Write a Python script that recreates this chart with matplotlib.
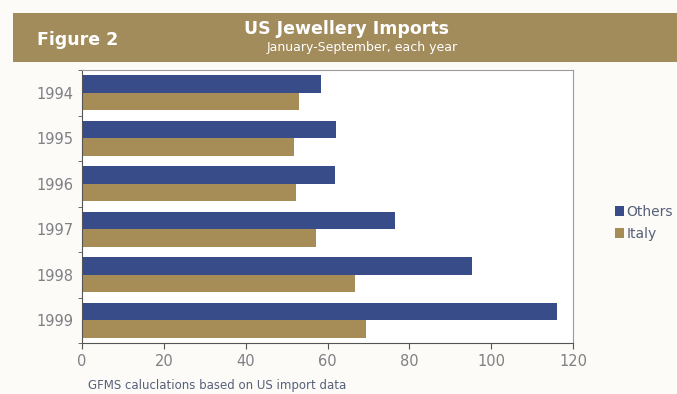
import matplotlib
matplotlib.use("Agg")
import matplotlib.pyplot as plt
import numpy as np
from matplotlib.patches import Rectangle

years = ["1994", "1995", "1996", "1997", "1998", "1999"]
others = [58.5, 62.0, 61.8, 76.5, 95.4, 116.1]
italy = [53.1, 51.8, 52.4, 57.1, 66.6, 69.5]
xticks = [0, 20, 40, 60, 80, 100, 120]

blue = "#394c8a"
tan = "#a68c56"
band = "#a38c5c"
txt = "#7f7f86"

fig = plt.figure(figsize=(6.77, 3.94), dpi=100)
fig.patch.set_facecolor("#fcfbf7")

# header band
fig.patches.append(Rectangle((13 / 677, 1 - 62 / 394), 1 - 13 / 677, 49 / 394,
                             transform=fig.transFigure, facecolor=band,
                             edgecolor="none", zorder=0))
fig.text(37 / 677, 1 - 40 / 394, "Figure 2", color="white", fontsize=12.5,
         fontweight="bold", va="center", ha="left")
fig.text(347 / 677, 1 - 29 / 394, "US Jewellery Imports", color="white",
         fontsize=12.5, fontweight="bold", va="center", ha="center")
fig.text(362 / 677, 1 - 47 / 394, "January-September, each year", color="white",
         fontsize=9, va="center", ha="center")

ax = fig.add_axes([82 / 677, 1 - 343 / 394, (573 - 82) / 677, (343 - 70) / 394])
ax.set_facecolor("white")
y = np.arange(len(years))
h = 0.38
ax.barh(y - h / 2, others, height=h, color=blue, label="Others")
ax.barh(y + h / 2, italy, height=h, color=tan, label="Italy")
ax.set_ylim(len(years) - 0.5, -0.5)
ax.set_xlim(0, 120)
ax.set_xticks(xticks)
ax.set_xticklabels([str(v) for v in xticks])
ax.set_yticks(y)
ax.set_yticklabels(years)
ax.set_yticks(np.arange(len(years) + 1) - 0.5, minor=True)
ax.tick_params(axis="y", which="major", length=0, labelsize=10.5, labelcolor=txt, pad=6)
ax.tick_params(axis="y", which="minor", length=3, color="#555555")
ax.tick_params(axis="x", length=4, color="#555555", labelsize=10.5, labelcolor=txt, pad=4)
for s in ax.spines.values():
    s.set_color("#9a9a9a")
    s.set_linewidth(0.8)
ax.spines["left"].set_color("#555555")
ax.spines["bottom"].set_color("#555555")

leg = fig.legend(loc="upper left", bbox_to_anchor=(609 / 677, 1 - 199 / 394),
                 frameon=False, fontsize=10, handlelength=0.7, handleheight=0.7,
                 handletextpad=0.15, labelspacing=0.6, borderaxespad=0)
for t in leg.get_texts():
    t.set_color("#56607a")

fig.text(88 / 677, 1 - 385 / 394, "GFMS caluclations based on US import data",
         color="#56607a", fontsize=8.5, va="center", ha="left")

fig.savefig("out.png", dpi=100, facecolor=fig.get_facecolor())
